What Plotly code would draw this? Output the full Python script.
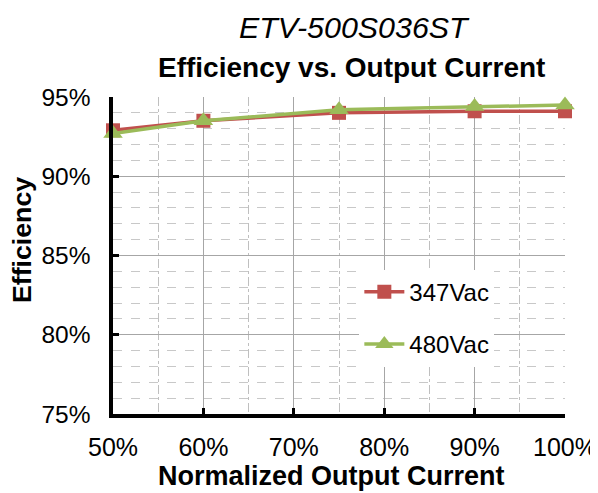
import plotly.graph_objects as go

load = [0.50, 0.60, 0.75, 0.90, 1.00]
eff_347 = [0.929, 0.935, 0.940, 0.941, 0.941]
eff_480 = [0.927, 0.935, 0.942, 0.944, 0.945]
series_names = ["347Vac", "480Vac"]
title_text = "ETV-500S036ST"
subtitle_text = "Efficiency vs. Output Current"
x_title = "Normalized Output Current"
y_title = "Efficiency"

FONT = "Liberation Sans, Arial, sans-serif"

# page has 8px body margin -> figure drawn at (8, 8)
OFF = 8
L, R, T, B = 113 - OFF, 598 - 565, 97 - OFF, 493 - 414
W, H = 598 - OFF, 493 - OFF
PW, PH = 565 - 113, 414 - 97


def px(xp):
    return (xp - 113) / PW


def py(yp):
    return (414 - yp) / PH


fig = go.Figure()
fig.add_trace(go.Scatter(x=load, y=eff_347, name=series_names[0], mode="lines+markers",
                         line=dict(color="#C0504D", width=3.5),
                         marker=dict(symbol="square", size=14, color="#C0504D"),
                         legendgroup="a", cliponaxis=False))
fig.add_trace(go.Scatter(x=load, y=eff_480, name=series_names[1], mode="lines+markers",
                         line=dict(color="#9BBB59", width=3.5),
                         marker=dict(symbol="triangle-up", size=17, color="#9BBB59"),
                         legendgroup="b", cliponaxis=False))

fig.update_layout(
    width=W, height=H,
    margin=dict(l=L, r=R, t=T, b=B, autoexpand=False),
    paper_bgcolor="white", plot_bgcolor="white",
    font=dict(family=FONT, color="black", size=24),
    showlegend=True,
    legend=dict(x=0.545, y=0.455, xanchor="left", yanchor="top",
                bgcolor="white", font=dict(size=24, family=FONT),
                tracegroupgap=18, traceorder="grouped", itemwidth=40),
)
fig.add_annotation(text="<i>" + title_text + "</i>", xref="paper", yref="paper",
                   x=px(354), y=py(27), xanchor="center", yanchor="middle",
                   showarrow=False, font=dict(size=30.4, family=FONT))
fig.add_annotation(text="<b>" + subtitle_text + "</b>", xref="paper", yref="paper",
                   x=px(351.5), y=py(68), xanchor="center", yanchor="middle",
                   showarrow=False, font=dict(size=28, family=FONT))
fig.add_annotation(text="<b>" + x_title + "</b>", xref="paper", yref="paper",
                   x=px(331.5), y=py(476), xanchor="center", yanchor="middle",
                   showarrow=False, font=dict(size=27, family=FONT))
fig.add_annotation(text="<b>" + y_title + "</b>", xref="paper", yref="paper",
                   x=px(22), y=py(240), xanchor="center", yanchor="middle", textangle=-90,
                   showarrow=False, font=dict(size=26.7, family=FONT))

fig.update_xaxes(
    range=[0.5, 1.0], dtick=0.1, tick0=0.5, tickformat=".0%",
    showgrid=True, gridcolor="#A6A6A6", gridwidth=1.2,
    minor=dict(dtick=0.05, showgrid=True, gridcolor="#BFBFBF", griddash="dashdot", gridwidth=1),
    showline=True, linecolor="black", linewidth=3.5,
    ticks="inside", ticklen=6, tickwidth=3, tickcolor="black",
    zeroline=False, ticklabelstandoff=8, automargin=False,
    tickfont=dict(size=25, family=FONT),
)
fig.update_yaxes(
    range=[0.75, 0.95], dtick=0.05, tick0=0.75, tickformat=".0%",
    ticksuffix="\u00a0\u00a0",
    showgrid=True, gridcolor="#A6A6A6", gridwidth=1.2,
    minor=dict(dtick=0.01, showgrid=True, gridcolor="#C8C8C8", griddash="dash", gridwidth=1),
    showline=True, linecolor="black", linewidth=4,
    ticks="inside", ticklen=6, tickwidth=3, tickcolor="black",
    zeroline=False, automargin=False,
    tickfont=dict(size=24.5, family=FONT),
)

fig.write_html("out.html")
